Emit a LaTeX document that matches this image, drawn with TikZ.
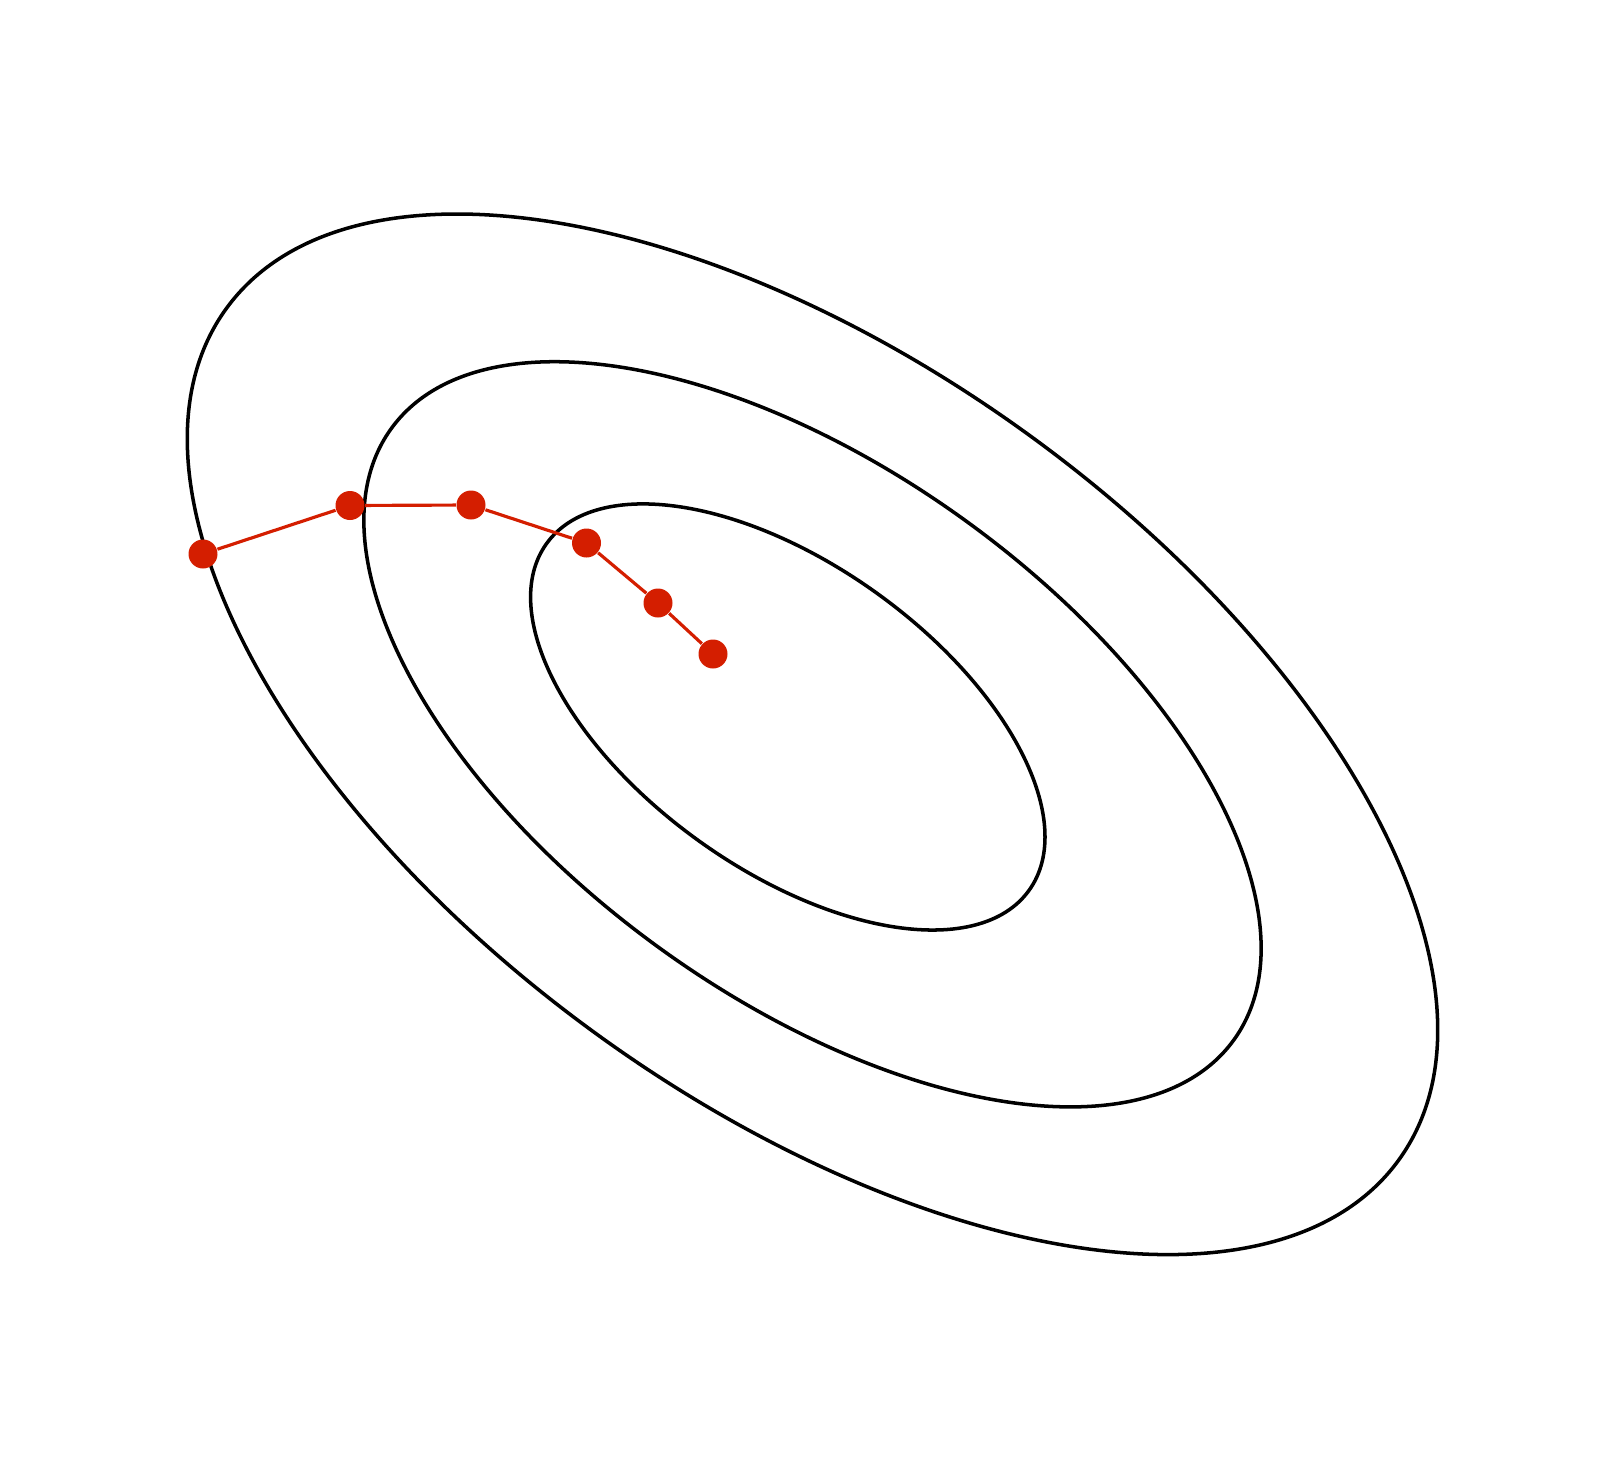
\documentclass[tikz,border=0pt]{standalone}
\usepackage{amsmath}
\usepackage{amssymb}
\usepackage{tikz}

\definecolor{stepred}{RGB}{212,30,0}

\begin{document}
\begin{tikzpicture}[contour/.style={draw=black, line width=1pt},
  step node/.style={circle, fill=stepred, inner sep=0pt, minimum size=0.29cm},
  step line/.style={draw=stepred, line width=0.9pt}]
  \useasboundingbox (0,0) rectangle (16.24,-14.66);

  \coordinate (c0) at (8.125,-7.343);
  \coordinate (c1) at (7.878,-7.17);

  \draw[contour, rotate around={-36:(c0)}] (c0) ellipse [x radius=7.245, y radius=3.694];
  \draw[contour, rotate around={-36:(c0)}] (c0) ellipse [x radius=5.205, y radius=2.628];
  \draw[contour, rotate around={-35.7:(c1)}] (c1) ellipse [x radius=2.971, y radius=1.525];

  \node[step node] (p0) at (2.03,-5.54) {};
  \node[step node] (p1) at (3.50,-5.055) {};
  \node[step node] (p2) at (4.71,-5.05) {};
  \node[step node] (p3) at (5.865,-5.43) {};
  \node[step node] (p4) at (6.58,-6.03) {};
  \node[step node] (p5) at (7.13,-6.54) {};

  \path[] (p0) [-, step line] edge (p1);
  \path[] (p1) [-, step line] edge (p2);
  \path[] (p2) [-, step line] edge (p3);
  \path[] (p3) [-, step line] edge (p4);
  \path[] (p4) [-, step line] edge (p5);
\end{tikzpicture}
\end{document}
